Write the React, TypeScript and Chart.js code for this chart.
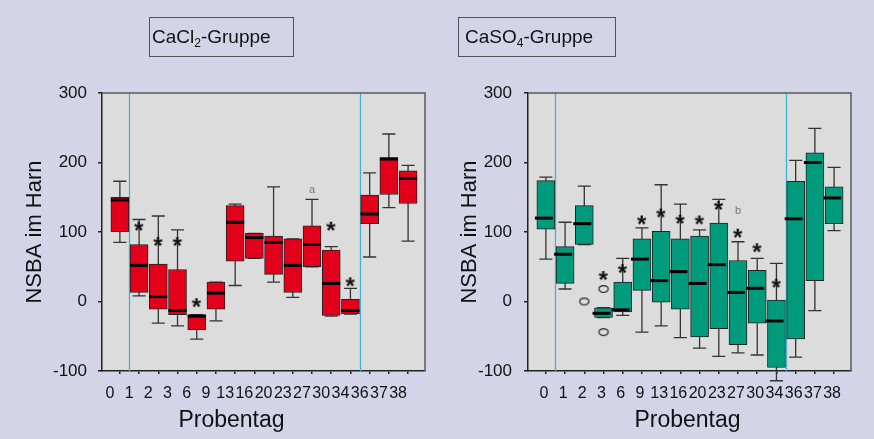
import React, { useEffect, useRef } from "react";
import { Chart, registerables } from "chart.js";

Chart.register(...registerables);

const FONT = "'Liberation Sans', Arial, Helvetica, sans-serif";
const BG = "#d4d4e8";
const PLOT_BG = "#dcdcdc";

// Probentage (sampling days)
const categories = ["0", "1", "2", "3", "6", "9", "13", "16", "20", "23", "27", "30", "34", "36", "37", "38"];
// vertical separators lie between day 0|1 and day 34|36
const dividers = [0.5, 12.5];

// ---- CaCl2 group ----
const caclMin = [85, 8, -31, -35, -54, -28, 23, 62, 28, 6, 50, -21, -18, 64, 135, 87];
const caclQ1 = [100, 13, -11, -19, -41, -11, 58, 62, 39, 13, 50, -20, -18, 112, 154, 141];
const caclMedian = [146, 52, 7, -13, -21, 12, 114, 92, 85, 52, 82, 26, -13, 126, 205, 177];
const caclQ3 = [150, 82, 54, 46, -19, 28, 138, 98, 94, 90, 109, 74, 3, 153, 207, 188];
const caclMax = [173, 118, 123, 103, -19, 28, 140, 98, 165, 90, 147, 79, 19, 185, 241, 196];
const caclStars: (number | null)[] = [null, 109, 87, 87, -1, null, null, null, null, null, null, 109, 29, null, null, null];
const caclOutlierIdx: number[] = [];
const caclOutlierVal: number[] = [];
const caclNoteIdx = [10];
const caclNoteVal = [160];
const caclNoteText = ["a"];

// ---- CaSO4 group ----
const casoMin = [61, 18, 82, -23, -20, -44, -35, -52, -67, -79, -74, -77, -114, -80, -13, 102];
const casoQ1 = [104, 26, 82, -23, -15, 16, -1, -11, -51, -39, -62, -31, -95, -54, 30, 112];
const casoMedian = [120, 68, 112, -17, -12, 61, 30, 43, 26, 53, 13, 19, -28, 119, 200, 149];
const casoQ3 = [174, 79, 138, -9, 28, 90, 101, 90, 94, 113, 59, 45, 2, 173, 214, 165];
const casoMax = [179, 114, 166, -9, 62, 106, 168, 140, 103, 147, 86, 62, 55, 203, 249, 193];
const casoStars: (number | null)[] = [null, null, null, 38, 48, 118, 128, 119, 118, 139, 99, 78, 27, null, null, null];
const casoOutlierIdx = [2, 3, 3];
const casoOutlierVal = [0, 18, -44];
const casoNoteIdx = [10];
const casoNoteVal = [130];
const casoNoteText = ["b"];

function makeStar(): HTMLCanvasElement {
  const size = 14;
  const c = document.createElement("canvas");
  c.width = size;
  c.height = size;
  const ctx = c.getContext("2d")!;
  ctx.fillStyle = "#111";
  ctx.font = `bold 24px ${FONT}`;
  ctx.textBaseline = "alphabetic";
  const m = ctx.measureText("*");
  const w = m.actualBoundingBoxLeft + m.actualBoundingBoxRight;
  const h = m.actualBoundingBoxAscent + m.actualBoundingBoxDescent;
  ctx.fillText("*", (size - w) / 2 + m.actualBoundingBoxLeft, (size - h) / 2 + m.actualBoundingBoxAscent);
  return c;
}

function makeEllipse(): HTMLCanvasElement {
  const c = document.createElement("canvas");
  c.width = 12;
  c.height = 10;
  const ctx = c.getContext("2d")!;
  ctx.strokeStyle = "#222";
  ctx.lineWidth = 1.2;
  ctx.beginPath();
  ctx.ellipse(6, 5, 4.6, 3.4, 0, 0, Math.PI * 2);
  ctx.stroke();
  return c;
}

type PanelProps = {
  left: number;
  fill: string;
  minV: number[];
  q1: number[];
  median: number[];
  q3: number[];
  maxV: number[];
  stars: (number | null)[];
  outIdx: number[];
  outVal: number[];
  noteIdx: number[];
  noteVal: number[];
  noteText: string[];
  axisWidth: number;
  padRight: number;
  tickPad: number;
  yTitlePad: number;
  labelOffset: number;
  xTitleDx: number;
  medianDx: number;
};

function Panel(p: PanelProps) {
  const ref = useRef<HTMLCanvasElement>(null);
  useEffect(() => {
    const star = makeStar();
    const ell = makeEllipse();
    const boxPlugin = {
      id: "boxplot",
      beforeDraw(chart: any) {
        const { ctx, chartArea: a } = chart;
        ctx.save();
        ctx.fillStyle = PLOT_BG;
        ctx.fillRect(a.left, a.top, a.right - a.left, a.bottom - a.top);
        ctx.restore();
      },
      beforeDatasetsDraw(chart: any) {
        const { ctx, chartArea: a } = chart;
        const xs = chart.scales.x;
        const ys = chart.scales.y;
        ctx.save();
        ctx.strokeStyle = "#3cb6d2";
        ctx.lineWidth = 1.3;
        for (const d of dividers) {
          const px = Math.round(xs.getPixelForValue(d)) + 0.5;
          ctx.beginPath();
          ctx.moveTo(px, a.top);
          ctx.lineTo(px, a.bottom);
          ctx.stroke();
        }
        const sp = xs.getPixelForValue(1) - xs.getPixelForValue(0);
        const cap = sp * 0.34;
        ctx.strokeStyle = "#333";
        ctx.lineWidth = 1.3;
        categories.forEach((_, i) => {
          const px = xs.getPixelForValue(i);
          const yTop = ys.getPixelForValue(p.maxV[i]);
          const yBot = ys.getPixelForValue(p.minV[i]);
          ctx.beginPath();
          ctx.moveTo(px, yTop);
          ctx.lineTo(px, yBot);
          ctx.moveTo(px - cap, yTop);
          ctx.lineTo(px + cap, yTop);
          ctx.moveTo(px - cap, yBot);
          ctx.lineTo(px + cap, yBot);
          ctx.stroke();
        });
        ctx.restore();
      },
      afterDatasetsDraw(chart: any) {
        const { ctx } = chart;
        const xs = chart.scales.x;
        const ys = chart.scales.y;
        ctx.save();
        ctx.strokeStyle = "#000";
        ctx.lineWidth = 3;
        categories.forEach((_, i) => {
          const px = xs.getPixelForValue(i) + p.medianDx;
          const py = ys.getPixelForValue(p.median[i]);
          ctx.beginPath();
          ctx.moveTo(px - 9, py);
          ctx.lineTo(px + 9, py);
          ctx.stroke();
        });
        ctx.fillStyle = "#777";
        ctx.font = `11px ${FONT}`;
        ctx.textAlign = "center";
        ctx.textBaseline = "middle";
        p.noteIdx.forEach((idx, k) => {
          ctx.fillText(p.noteText[k], xs.getPixelForValue(idx), ys.getPixelForValue(p.noteVal[k]));
        });
        ctx.restore();
      },
      afterDraw(chart: any) {
        const { ctx, chartArea: a } = chart;
        ctx.save();
        ctx.strokeStyle = "#5a5a5a";
        ctx.lineWidth = 1.5;
        ctx.beginPath();
        ctx.moveTo(a.left, a.top);
        ctx.lineTo(a.right, a.top);
        ctx.lineTo(a.right, a.bottom);
        ctx.stroke();
        ctx.fillStyle = "#111";
        ctx.font = `23px ${FONT}`;
        ctx.textAlign = "center";
        ctx.textBaseline = "middle";
        ctx.fillText("Probentag", (a.left + a.right) / 2 + p.xTitleDx, a.bottom + 50);
        ctx.restore();
      },
    };

    const starData = p.stars
      .map((v, i) => (v == null ? null : { x: i, y: v }))
      .filter((d) => d !== null);
    const outData = p.outIdx.map((x, k) => ({ x, y: p.outVal[k] }));

    const chart = new Chart(ref.current!, {
      type: "bar",
      data: {
        datasets: [
          {
            type: "scatter",
            data: starData as any,
            pointStyle: star as any,
            pointRadius: 6,
            order: 0,
          } as any,
          {
            type: "scatter",
            data: outData,
            pointStyle: ell as any,
            pointRadius: 5,
            order: 0,
          } as any,
          {
            type: "bar",
            data: categories.map((_, i) => ({ x: i, y: [p.q1[i], p.q3[i]] })) as any,
            backgroundColor: p.fill,
            borderColor: "#222",
            borderWidth: 1,
            borderSkipped: false,
            barThickness: 18,
            order: 1,
          } as any,
        ],
      },
      options: {
        responsive: false,
        animation: false,
        layout: { padding: { left: 0, top: 93, right: p.padRight, bottom: 0 } },
        plugins: {
          legend: { display: false },
          tooltip: { enabled: false },
        },
        scales: {
          x: {
            type: "linear",
            min: -0.93,
            max: 15.88,
            offset: false,
            afterBuildTicks: (s: any) => {
              s.ticks = categories.map((_, i) => ({ value: i }));
            },
            afterFit: (s: any) => {
              s.height = 68;
            },
            grid: {
              display: true,
              drawOnChartArea: false,
              drawTicks: true,
              tickLength: 3,
              color: "#222",
              lineWidth: 1.5,
              offset: false,
            },
            border: { display: true, color: "#222", width: 1.5 },
            ticks: {
              autoSkip: false,
              maxRotation: 0,
              minRotation: 0,
              padding: 10,
              labelOffset: p.labelOffset,
              color: "#111",
              font: { family: FONT, size: 16 },
              callback: (v: any) => categories[v] ?? "",
            },
          } as any,
          y: {
            type: "linear",
            min: -100,
            max: 300,
            afterFit: (s: any) => {
              s.width = p.axisWidth;
            },
            ticks: {
              stepSize: 100,
              padding: p.tickPad,
              color: "#111",
              font: { family: FONT, size: 17 },
            },
            grid: {
              display: true,
              drawOnChartArea: false,
              drawTicks: true,
              tickLength: 4,
              color: "#222",
              lineWidth: 1.5,
            },
            border: { display: true, color: "#222", width: 1.5 },
            title: {
              display: true,
              text: "NSBA im Harn",
              color: "#111",
              font: { family: FONT, size: 22 },
              padding: { top: p.yTitlePad, bottom: 0 },
            },
          } as any,
        },
      },
      plugins: [boxPlugin as any],
    });
    return () => chart.destroy();
  }, []);

  return (
    <div style={{ position: "absolute", left: p.left, top: 0, width: 437, height: 439 }}>
      <canvas ref={ref} width={437} height={439} style={{ width: 437, height: 439, display: "block" }} />
    </div>
  );
}

function TitleBox(props: { left: number; width: number; padLeft: number; base: string; sub: string }) {
  return (
    <div
      style={{
        position: "absolute",
        left: props.left,
        top: 17,
        width: props.width,
        height: 40,
        boxSizing: "border-box",
        border: "1.5px solid #555",
        fontFamily: FONT,
        fontSize: 19,
        lineHeight: "37px",
        paddingLeft: props.padLeft,
        color: "#111",
        whiteSpace: "nowrap",
      }}
    >
      {props.base}
      <sub style={{ fontSize: 12, verticalAlign: "-4px", lineHeight: 0 }}>{props.sub}</sub>
      -Gruppe
    </div>
  );
}

export default function App() {
  return (
    <div
      style={{
        position: "fixed",
        left: 0,
        top: 0,
        width: 874,
        height: 439,
        background: BG,
        overflow: "hidden",
      }}
    >
      <Panel
        left={0}
        fill="#e2001a"
        minV={caclMin}
        q1={caclQ1}
        median={caclMedian}
        q3={caclQ3}
        maxV={caclMax}
        stars={caclStars}
        outIdx={caclOutlierIdx}
        outVal={caclOutlierVal}
        noteIdx={caclNoteIdx}
        noteVal={caclNoteVal}
        noteText={caclNoteText}
        axisWidth={102}
        padRight={12}
        tickPad={11}
        yTitlePad={22}
        labelOffset={-10}
        xTitleDx={-32}
        medianDx={0}
      />
      <Panel
        left={437}
        fill="#009a7c"
        minV={casoMin}
        q1={casoQ1}
        median={casoMedian}
        q3={casoQ3}
        maxV={casoMax}
        stars={casoStars}
        outIdx={casoOutlierIdx}
        outVal={casoOutlierVal}
        noteIdx={casoNoteIdx}
        noteVal={casoNoteVal}
        noteText={casoNoteText}
        axisWidth={91}
        padRight={23}
        tickPad={12}
        yTitlePad={20}
        labelOffset={-2}
        xTitleDx={-2}
        medianDx={-2}
      />
      <TitleBox left={149} width={145} padLeft={2} base="CaCl" sub="2" />
      <TitleBox left={458} width={158} padLeft={6} base="CaSO" sub="4" />
    </div>
  );
}
